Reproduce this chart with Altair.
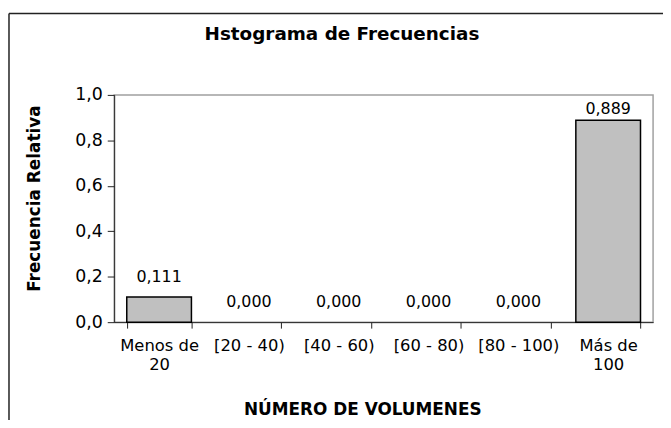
import altair as alt
import pandas as pd

categories = ["Menos de|20", "[20 - 40)", "[40 - 60)", "[60 - 80)", "[80 - 100)", "Más de|100"]
frequencies = [0.111, 0.000, 0.000, 0.000, 0.000, 0.889]
y_ticks = [0.0, 0.2, 0.4, 0.6, 0.8, 1.0]

df = pd.DataFrame({"cat": categories, "freq": frequencies})
FONT = "DejaVu Sans"

x_enc = alt.X(
    "cat:N",
    sort=categories,
    scale=alt.Scale(paddingInner=0.28, paddingOuter=0.14),
    axis=alt.Axis(
        title="NÚMERO DE VOLUMENES",
        labelAngle=0,
        labelExpr="split(datum.label, '|')",
        labelFont=FONT, labelFontSize=16.5, labelColor="black",
        labelLineHeight=19, labelPadding=10, labelBaseline="top",
        tickBand="extent", tickSize=6, tickColor="#222", domainColor="#222",
        titleFont=FONT, titleFontSize=17, titleFontWeight="bold", titleColor="black",
        titleX=250, titleY=88, titleBaseline="middle", titleAlign="center",
    ),
)
y_axis = alt.Axis(
    title="Frecuencia Relativa",
    values=y_ticks, format=".1f",
    labelFont=FONT, labelFontSize=17.5, labelColor="black", labelPadding=5,
    tickSize=7, tickColor="#222", domainColor="#222", grid=False,
    titleFont=FONT, titleFontSize=17, titleFontWeight="bold", titleColor="black",
    titleX=-80, titleY=104, titleAngle=270, titleBaseline="middle", titleAlign="center",
)

bars = alt.Chart(df).mark_bar(color="#c0c0c0", stroke="black", strokeWidth=1.5).encode(
    x=x_enc,
    y=alt.Y("freq:Q", scale=alt.Scale(domain=[0, 1], nice=False), axis=y_axis),
    strokeOpacity=alt.condition("datum.freq > 0", alt.value(1), alt.value(0)),
)

labels = alt.Chart(df).transform_calculate(
    ly="min(datum.freq, 0.85)"
).mark_text(font=FONT, fontSize=16, color="black", baseline="alphabetic", dy=-15).encode(
    x=alt.X("cat:N", sort=categories),
    y=alt.Y("ly:Q"),
    text=alt.Text("freq:Q", format=".3f"),
)

frame_df = pd.DataFrame({"k": [0]})
frame_left = alt.Chart(frame_df).mark_rule(color="#222", strokeWidth=1.5).encode(
    x=alt.value(-106), y=alt.value(-82), y2=alt.value(340)
)
frame_top = alt.Chart(frame_df).mark_rule(color="#222", strokeWidth=1.5).encode(
    x=alt.value(-106), x2=alt.value(560), y=alt.value(-82)
)

chart = alt.layer(frame_left, frame_top, bars, labels).properties(
    width=543,
    height=229,
    title=alt.TitleParams(
        "Hstograma de Frecuencias", font=FONT, fontSize=18.5, fontWeight="bold",
        color="black", anchor="middle", frame="group", dx=-42, offset=0,
        baseline="alphabetic", dy=46,
    ),
    autosize=alt.AutoSizeParams(type="none"),
    padding={"left": 107, "top": 86, "right": 10, "bottom": 97},
).configure(
    background="white",
    locale={"number": {"decimal": ",", "thousands": ".", "grouping": [3], "currency": ["", " €"]}},
).configure_view(
    stroke="#a0a0a0", strokeWidth=1.5
)

chart.save("out.html", embed_options={"renderer": "svg", "actions": False})
